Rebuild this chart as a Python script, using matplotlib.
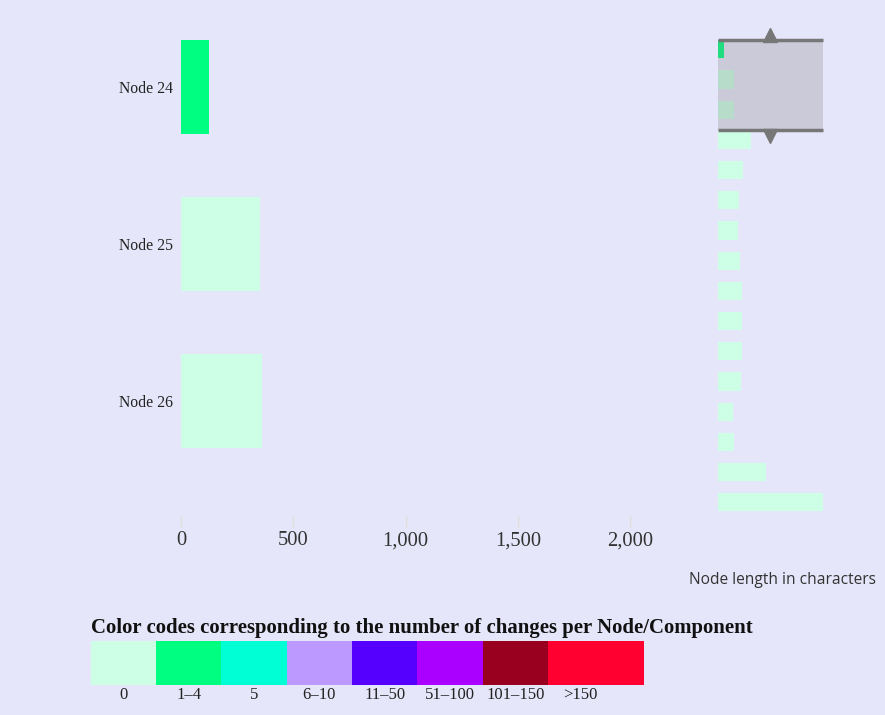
import matplotlib
matplotlib.use("Agg")
import matplotlib.pyplot as plt
from matplotlib.patches import Rectangle
from matplotlib.transforms import offset_copy

# ---- data ----
nodes = ["Node 24", "Node 25", "Node 26", "Node 27", "Node 28", "Node 29", "Node 30", "Node 31",
         "Node 32", "Node 33", "Node 34", "Node 35", "Node 36", "Node 37", "Node 38", "Node 39"]
lengths = [125, 352, 360, 725, 542, 469, 432, 484, 527, 527, 527, 505, 337, 344, 1055, 2307]
change_class = [1, 0, 0, 0, 0, 0, 0, 0, 0, 0, 0, 0, 0, 0, 0, 0]
visible = 3

legend_labels = ["0", "1–4", "5", "6–10", "11–50", "51–100", "101–150", ">150"]
legend_colors = ["#CCFFE6", "#00FF80", "#00FFD5", "#BB99FF", "#5500FF", "#AA00FF", "#99001F", "#FF0030"]
legend_widths = [1, 1, 1, 1, 1, 1, 1, 1.46]

xticks = [0, 500, 1000, 1500, 2000]
xticklabels = ["0", "500", "1,000", "1,500", "2,000"]

BG = "#E6E6FA"
W, H = 885, 715
fig = plt.figure(figsize=(W / 100, H / 100), dpi=100, facecolor=BG)

def box(l, t, r, b):
    return [l / W, 1 - b / H, (r - l) / W, (b - t) / H]

serif = "Liberation Serif"

# ---- main chart ----
ax = fig.add_axes(box(181, 8.5, 698, 516))
ax.set_facecolor(BG)
cols = [legend_colors[c] for c in change_class]
ax.barh(range(visible), lengths[:visible], height=0.6, color=cols[:visible])
ax.set_xlim(0, 2302)
ax.set_ylim(2.73, -0.5)
ax.set_yticks(range(visible))
ax.set_yticklabels(nodes[:visible], family=serif, fontsize=11.3, color="#222222")
ax.set_xticks(xticks)
ax.set_xticklabels(xticklabels, family=serif, fontsize=14.8, color="#333333")
ax.tick_params(axis="y", length=0, pad=10)
ax.tick_params(axis="y", pad=6)
ax.tick_params(axis="x", length=8, width=1, color="#DEDED6", pad=3)
for s in ax.spines.values():
    s.set_visible(False)

fig.text(876 / W, 1 - 580 / H, "Node length in characters", family="Open Sans",
         fontsize=11.2, color="#333333", ha="right", va="center")

# ---- navigator ----
nav = fig.add_axes(box(718, 34.2, 822.7, 517.4))
nav.set_facecolor(BG)
nav.barh(range(len(nodes)), lengths, height=0.6, color=cols)
nav.set_xlim(0, max(lengths))
nav.set_ylim(len(nodes) - 0.5, -0.5)
nav.axis("off")
m_top, m_bot = -0.3, 2.68
nav.add_patch(Rectangle((0, m_top), max(lengths), m_bot - m_top, facecolor="#808080",
                        alpha=0.27, edgecolor="none", zorder=3))
nav.plot([0, max(lengths)], [m_top, m_top], color="#777777", lw=2.5, zorder=4, clip_on=False,
         solid_capstyle="butt")
nav.plot([0, max(lengths)], [m_bot, m_bot], color="#777777", lw=2.5, zorder=4, clip_on=False,
         solid_capstyle="butt")
mid = max(lengths) / 2
nav.plot([mid], [m_top], marker="^", markersize=10, color="#777777", zorder=5, clip_on=False,
         transform=offset_copy(nav.transData, fig=fig, x=0, y=4, units="points"))
nav.plot([mid], [m_bot], marker="v", markersize=10, color="#777777", zorder=5, clip_on=False,
         transform=offset_copy(nav.transData, fig=fig, x=0, y=-4, units="points"))

# ---- color legend ----
fig.text(91 / W, 1 - 628 / H, "Color codes corresponding to the number of changes per Node/Component",
         family=serif, fontsize=14.95, fontweight="bold", color="#111111", ha="left", va="center")
lg = fig.add_axes(box(90.5, 641, 643.5, 685))
lg.set_facecolor(BG)
lefts = [sum(legend_widths[:i]) for i in range(len(legend_widths))]
lg.bar(lefts, [1] * len(lefts), width=legend_widths, align="edge", color=legend_colors)
lg.set_xlim(0, sum(legend_widths))
lg.set_ylim(0, 1)
lg.axis("off")
for x0, lab in zip(lefts, legend_labels):
    lg.text(x0 + 0.5, -0.22, lab, family=serif, fontsize=12, color="#222222",
            ha="center", va="center", transform=lg.transData)

fig.savefig("out.png", dpi=100, facecolor=BG)
